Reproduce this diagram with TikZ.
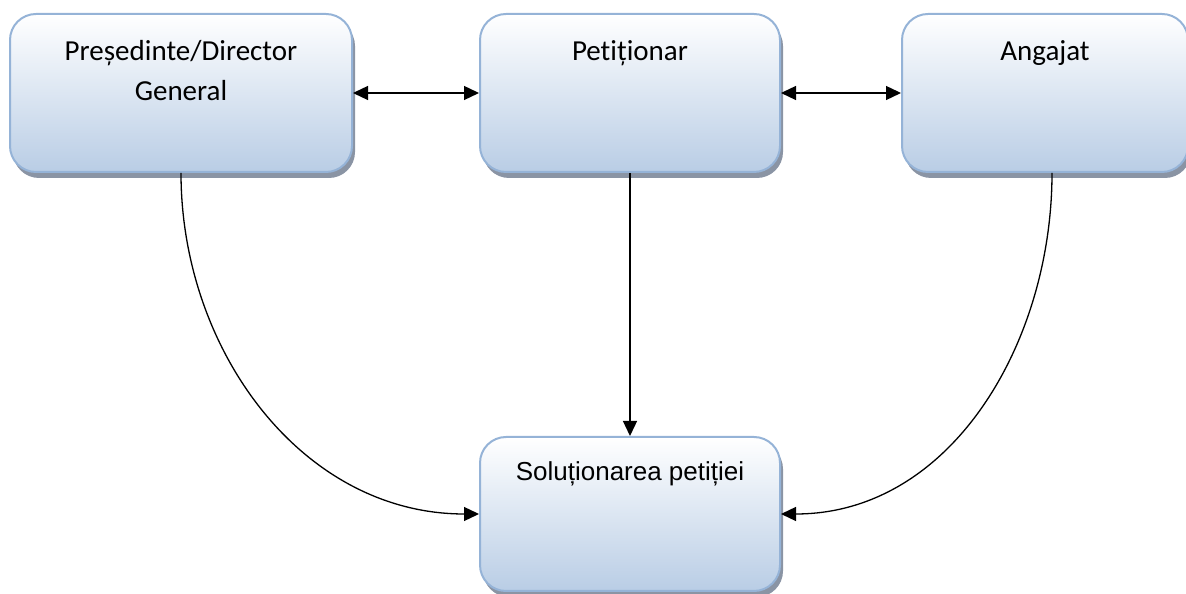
\documentclass[tikz,border=0pt]{standalone}
\usepackage{fontspec}
\setmainfont{Carlito}[Ligatures=NoCommon]
\newfontfamily\arialfont{Liberation Sans}
\usetikzlibrary{positioning,shadows,arrows.meta}
\definecolor{boxline}{RGB}{149,179,215}
\definecolor{boxfill}{RGB}{185,205,229}
\definecolor{boxshadow}{RGB}{138,148,164}

\begin{document}
\begin{tikzpicture}[x=1pt, y=1pt, line width=1.3pt, >={Triangle[length=15pt,width=14pt]},
  main/.style = {draw=boxline, line width=2pt, rounded corners=26pt, top color=white, bottom color=boxfill, minimum height=158pt, inner sep=0pt, drop shadow={shadow xshift=3pt, shadow yshift=-6pt, fill=boxshadow, opacity=1}},
  title/.style = {anchor=base, yshift=-48pt, align=center, font=\fontsize{29}{40}\selectfont}]
\useasboundingbox (0,0) rectangle (1186,594);
\node[main, minimum width=342pt, label={[title, yshift=-40pt]north:Președinte/Director\\General}] (1) at (181,501) {};
\node[main, minimum width=300pt, right=126pt of 1, label={[title]north:Petiționar}] (2) {};
\node[main, minimum width=286pt, right=120pt of 2, label={[title]north:Angajat}] (3) {};
\node[main, minimum width=300pt, minimum height=154pt, below=263pt of 2, label={[title, yshift=3pt, font=\arialfont\fontsize{26}{32}\selectfont]north:Soluționarea petiției}] (4) {};

\draw[<->] (1) -- (2);
\draw[<->] (2) -- (3);
\draw[->] (2) -- (4);
\draw[->] (1) to [out=-90,in=180] (4);
\draw[->] ([xshift=7pt]3.south) to [out=-90,in=0] (4);
\end{tikzpicture}
\end{document}
